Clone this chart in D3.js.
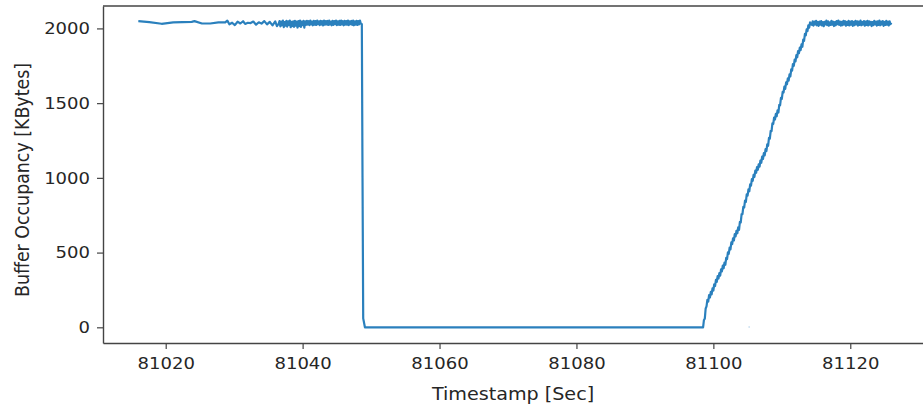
<!DOCTYPE html>
<html>
<head>
<meta charset="utf-8">
<script src="https://cdn.jsdelivr.net/npm/d3@7"></script>
<style>
    body { margin: 0; background: #fff; }
    svg { display: block; }
    .axis text { font-family: "DejaVu Sans", sans-serif; fill: #262626; }
    .axis path, .axis line { stroke: #444; }
</style>
</head>
<body>
<svg id="chart" width="923" height="406"></svg>
<script>
// Buffer occupancy. Irregular parts as [timestamp sec, KBytes],
// regularly sampled parts as a start time, a sample step and the KBytes values.
let fullPlateau = [
    [81016.0, 2049], [81017.6, 2042], [81019.4, 2031], [81021.1, 2040], [81023.8, 2044],
    [81024.2, 2049], [81025.3, 2033], [81026.5, 2033], [81027.7, 2040],
    [81028.7, 2040], [81029.0, 2052], [81029.3, 2028], [81029.7, 2038], [81030.1, 2022],
    [81030.5, 2045], [81030.9, 2033], [81031.3, 2048], [81031.6, 2030], [81032.0, 2038],
    [81032.4, 2036], [81032.8, 2046], [81033.2, 2025], [81033.6, 2041], [81034.0, 2032],
    [81034.4, 2049], [81034.8, 2027], [81035.2, 2044], [81035.6, 2020], [81036.0, 2047],
    [81036.25, 2015]
];

let noisyStart = 81036.5;
let noisyStep = 0.125;
let noisyValues = [
    2030, 2049, 2014, 2045, 2021, 2052, 2009, 2043,
    2018, 2050, 2012, 2047, 2024, 2053, 2008, 2044,
    2016, 2048, 2011, 2051, 2019, 2046, 2006, 2049,
    2015, 2052, 2010, 2045, 2022, 2050, 2005, 2047,
    2024, 2051, 2026, 2048, 2022, 2053, 2027, 2046,
    2021, 2050, 2025, 2049, 2023, 2052, 2028, 2047,
    2022, 2051, 2026, 2048, 2020, 2053, 2025, 2049,
    2027, 2050, 2023, 2052, 2026, 2046, 2021, 2051,
    2024, 2049, 2028, 2053, 2022, 2047, 2025, 2050,
    2023, 2052, 2027, 2048, 2021, 2051, 2026, 2049,
    2025, 2053, 2022, 2047, 2028, 2050, 2024, 2052,
    2021, 2048, 2026, 2051, 2023, 2049, 2027, 2053,
    2032
];

let drain = [
    [81048.65, 2030], [81048.75, 1000], [81048.85, 60], [81049.1, 0],
    [81060.0, 0], [81080.0, 0]
];

let rampStart = 81098.5;
let rampStep = 0.125;
let rampValues = [
    0, 49, 58, 126, 140, 183, 172, 215, 199, 237, 220, 261, 246, 288, 276, 318,
    304, 342, 326, 363, 346, 388, 374, 413, 395, 433, 418, 465, 456, 502, 492, 533,
    521, 568, 557, 596, 581, 623, 608, 646, 629, 668, 652, 705, 702, 758, 757, 806,
    801, 847, 840, 890, 881, 923, 910, 956, 948, 992, 980, 1020, 1006, 1048, 1034, 1072,
    1054, 1091, 1075, 1116, 1101, 1142, 1126, 1165, 1150, 1192, 1179, 1225, 1215, 1267, 1262, 1314,
    1313, 1365, 1361, 1404, 1390, 1428, 1412, 1452, 1437, 1489, 1486, 1536, 1529, 1576, 1571, 1611,
    1595, 1639, 1626, 1665, 1650, 1692, 1679, 1726, 1718, 1762, 1750, 1791, 1779, 1821, 1807, 1849,
    1834, 1872, 1855, 1893, 1877, 1925, 1917, 1964, 1954, 1994, 1982, 2021, 2005, 2040, 2030
];

let fullStart = 81114.375;
let fullStep = 0.125;
let fullValues = [
    2024, 2047, 2019, 2045, 2026, 2050, 2021, 2043,
    2017, 2046, 2025, 2049, 2020, 2042, 2015, 2044,
    2027, 2052, 2022, 2047, 2018, 2041, 2023, 2051,
    2025, 2045, 2016, 2042, 2021, 2049, 2028, 2053,
    2024, 2046, 2019, 2044, 2022, 2050, 2026, 2048,
    2018, 2043, 2023, 2051, 2020, 2045, 2025, 2049,
    2017, 2044, 2022, 2050, 2027, 2047, 2019, 2046,
    2024, 2052, 2021, 2043, 2026, 2049, 2018, 2045,
    2023, 2051, 2020, 2047, 2025, 2044, 2016, 2042,
    2022, 2050, 2027, 2046, 2019, 2048, 2024, 2052,
    2021, 2045, 2026, 2049, 2017, 2043, 2023, 2050,
    2025, 2046, 2020, 2048, 2028, 2038
];

// a lone sample sitting apart from the line
let straySample = [[81105.15, 2], [81105.3, 2]];

let xTicks = [81020, 81040, 81060, 81080, 81100, 81120];
let yTicks = [0, 500, 1000, 1500, 2000];

function sampled(start, step, values) {
    return values.map((v, i) => [start + i * step, v]);
}

let occupancy = fullPlateau.concat(
    sampled(noisyStart, noisyStep, noisyValues),
    drain,
    sampled(rampStart, rampStep, rampValues),
    sampled(fullStart, fullStep, fullValues));

let svg = d3.select("#chart");
let textStretch = 1.1;

let scale = {
    x: d3.scaleLinear().domain([81010.84, 81131.5]).range([103, 929]),
    y: d3.scaleLinear().domain([-105, 2150]).range([343, 6])
};

let line = d3.line()
    .x(d => scale.x(d[0]))
    .y(d => scale.y(d[1]));

// Soften the trace a little, the source picture is a blurry screenshot
svg.append("defs")
    .append("filter")
    .attr("id", "soft")
    .append("feGaussianBlur")
    .attr("stdDeviation", 0.5);

// Series
svg.append("path")
    .datum(occupancy)
    .attr("fill", "none")
    .attr("stroke", "#2b80bd")
    .attr("stroke-width", 2.2)
    .attr("stroke-linejoin", "round")
    .attr("filter", "url(#soft)")
    .attr("d", line);

svg.append("path")
    .datum(straySample)
    .attr("fill", "none")
    .attr("stroke", "#7fb0d8")
    .attr("stroke-width", 1.2)
    .attr("d", line);

// Axes
let xAxis = svg.append("g")
    .attr("class", "axis")
    .attr("transform", `translate(0, ${scale.y.range()[0]})`)
    .call(d3.axisBottom(scale.x).tickValues(xTicks).tickFormat(d3.format("d"))
        .tickSize(6).tickPadding(8).tickSizeOuter(0));

xAxis.selectAll("text")
    .style("font-size", "16.4px")
    .attr("transform", `scale(${textStretch},1)`);

let yAxis = svg.append("g")
    .attr("class", "axis")
    .attr("transform", `translate(${scale.x.range()[0]}, 0)`)
    .call(d3.axisLeft(scale.y).tickValues(yTicks).tickFormat(d3.format("d"))
        .tickSize(6).tickSizeOuter(0));

yAxis.selectAll("text")
    .style("font-size", "16.4px")
    .attr("x", -13 / textStretch)
    .attr("transform", `scale(${textStretch},1)`);

svg.selectAll(".axis path").attr("stroke-width", 1.4);
svg.selectAll(".axis line").attr("stroke-width", 1.2);

// Top spine (right spine falls outside the picture)
svg.append("line")
    .attr("x1", scale.x.range()[0])
    .attr("x2", scale.x.range()[1])
    .attr("y1", scale.y.range()[1])
    .attr("y2", scale.y.range()[1])
    .attr("stroke", "#444")
    .attr("stroke-width", 1.4);

// Axis titles
svg.append("text")
    .attr("transform", `translate(513, 399.5) scale(${textStretch},1)`)
    .attr("text-anchor", "middle")
    .style("font-family", "DejaVu Sans, sans-serif")
    .style("font-size", "17.4px")
    .style("fill", "#262626")
    .text("Timestamp [Sec]");

svg.append("text")
    .attr("transform", `translate(28.5, 180) scale(${textStretch},1) rotate(-90)`)
    .attr("text-anchor", "middle")
    .style("font-family", "DejaVu Sans, sans-serif")
    .style("font-size", "17.4px")
    .style("fill", "#262626")
    .text("Buffer Occupancy [KBytes]");
</script>
</body>
</html>
